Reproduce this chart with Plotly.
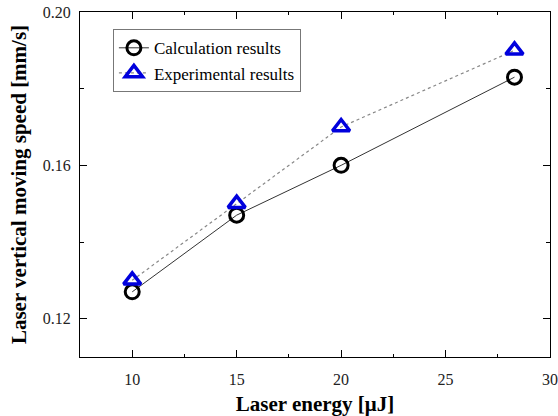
import plotly.graph_objects as go

energy = [10, 15, 20, 28.3]
calc_speed = [0.127, 0.147, 0.160, 0.183]
exp_speed = [0.130, 0.150, 0.170, 0.190]

x_ticks = [10, 15, 20, 25, 30]
y_ticks = [0.12, 0.16, 0.20]
y_tick_text = ["0.12", "0.16", "0.20"]

fig = go.Figure()
fig.add_trace(go.Scatter(
    x=energy, y=calc_speed, mode="lines+markers", name="Calculation results",
    line=dict(color="#333333", width=1),
    marker=dict(symbol="circle-open", size=14, color="black", line=dict(width=3, color="black")),
))
fig.add_trace(go.Scatter(
    x=energy, y=exp_speed, mode="lines+markers", name="Experimental results",
    line=dict(color="#888888", width=1.2, dash="dot"),
    marker=dict(symbol="triangle-up-open", size=15, color="#0000dd", line=dict(width=3.5, color="#0000dd")),
))

axis_common = dict(
    showline=True, linecolor="black", linewidth=1.2, mirror="ticks",
    ticks="inside", tickcolor="black", ticklen=7, tickwidth=1.2,
    showgrid=False, zeroline=False, automargin=False,
    tickfont=dict(family="Liberation Serif", size=16, color="#222222"),
)

fig.update_layout(
    width=558, height=416,
    margin=dict(l=80, r=8, t=12, b=59),
    paper_bgcolor="white", plot_bgcolor="white",
    xaxis=dict(
        range=[7.5, 30], tickvals=x_ticks, ticklabelstandoff=8,
        minor=dict(ticks="inside", ticklen=3, tickcolor="black", dtick=2.5, tick0=0),
        title=dict(text="<b>Laser energy [μJ]</b>", font=dict(family="Liberation Serif", size=21, color="black"), standoff=10),
        **axis_common,
    ),
    yaxis=dict(
        range=[0.11, 0.20], tickvals=y_ticks, ticktext=y_tick_text, ticklabelstandoff=5,
        minor=dict(ticks="inside", ticklen=4, tickcolor="black", dtick=0.02, tick0=0),
        title=dict(text="<b>Laser vertical moving speed [mm/s]</b>", font=dict(family="Liberation Serif", size=21, color="black"), standoff=10),
        **axis_common,
    ),
    legend=dict(
        x=0.07, y=0.95, xanchor="left", yanchor="top",
        bordercolor="#777777", borderwidth=1, bgcolor="white",
        font=dict(family="Liberation Serif", size=17, color="black"),
        tracegroupgap=0, itemwidth=30,
    ),
    showlegend=True,
)

fig.write_html("out.html", config={"displayModeBar": False},
               post_script="document.body.style.margin='0';document.body.style.overflow='hidden';")
